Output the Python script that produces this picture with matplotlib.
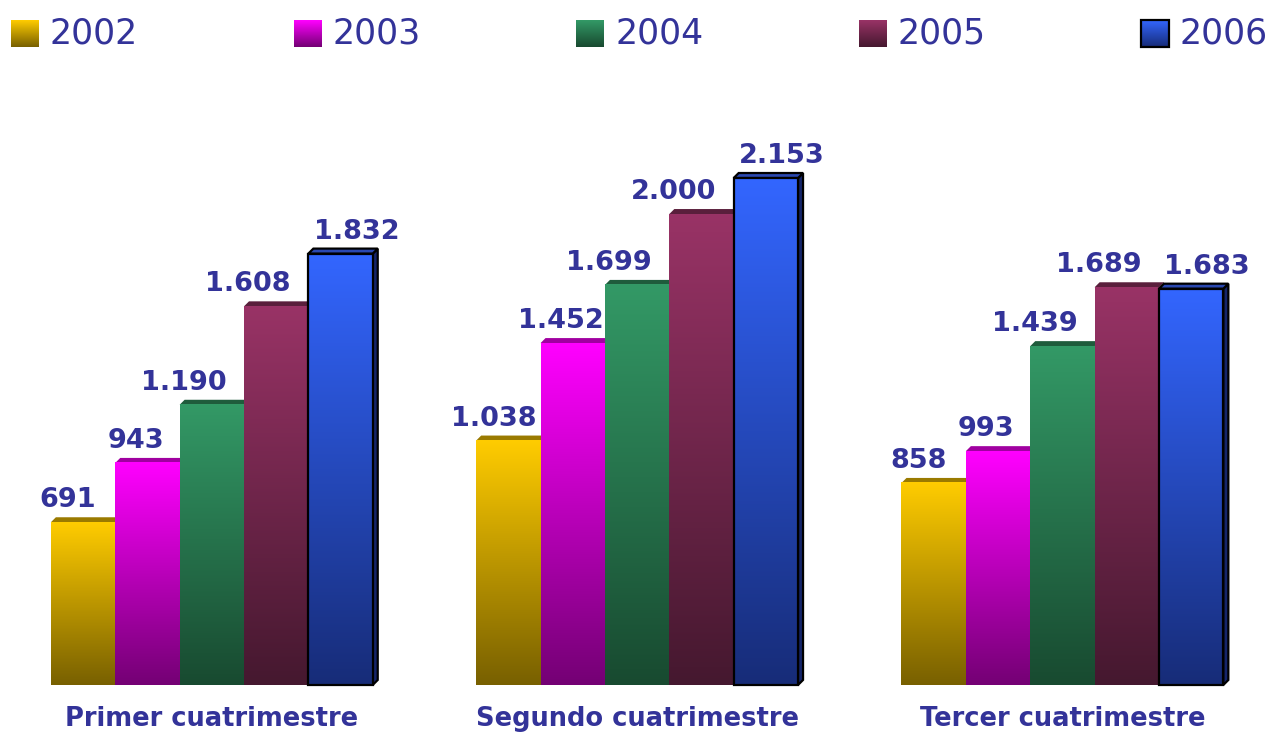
import matplotlib.pyplot as plt
import numpy as np
from matplotlib.colors import LinearSegmentedColormap
from matplotlib.patches import Polygon, Rectangle

# Data
years = ['2002', '2003', '2004', '2005', '2006']
groups = ['Primer cuatrimestre', 'Segundo cuatrimestre', 'Tercer cuatrimestre']
v2002 = [691, 1038, 858]
v2003 = [943, 1452, 993]
v2004 = [1190, 1699, 1439]
v2005 = [1608, 2000, 1689]
v2006 = [1832, 2153, 1683]
series = [v2002, v2003, v2004, v2005, v2006]

# Colours (top of bar -> bottom of bar)
top_colors = ['#FFCC00', '#FF00FF', '#339966', '#993366', '#3366FF']
bottom_colors = ['#786000', '#740074', '#184A30', '#45182F', '#172C78']
face_colors = ['#9A7A00', '#A000A0', '#1F5C3C', '#5A1F3C', '#2A48B0']
side_colors = ['#6A5500', '#660066', '#143E28', '#3A1427', '#15256A']
text_color = '#333399'


def fmt(v):
    return f'{v:,}'.replace(',', '.')


fig = plt.figure(figsize=(12.67, 7.33), dpi=100)
ax = fig.add_axes([0, 0, 1, 1])

px_x = 1 / 425.5      # data units per pixel (x)
px_y = 4.246          # data units per pixel (y)
w = 64.4 * px_x
dx = 5 * px_x
dy = 5 * px_y
label_off = [-15, -12, -28, -28, 16]

z = 2
for g in range(len(groups)):
    for i in range(len(years)):
        h = series[i][g]
        x0 = g + (i - 2.5) * w
        x1 = x0 + w
        edge = 'black' if i == 4 else 'none'
        lw = 1.6 if i == 4 else 0
        side = Polygon([(x1, 0), (x1 + dx, dy), (x1 + dx, h + dy), (x1, h)],
                       closed=True, facecolor=side_colors[i], edgecolor=edge,
                       linewidth=lw, zorder=z)
        top = Polygon([(x0, h), (x0 + dx, h + dy), (x1 + dx, h + dy), (x1, h)],
                      closed=True, facecolor=face_colors[i], edgecolor=edge,
                      linewidth=lw, zorder=z)
        ax.add_patch(side)
        ax.add_patch(top)
        cmap = LinearSegmentedColormap.from_list('g', [bottom_colors[i], top_colors[i]])
        grad = np.linspace(1, 0, 256).reshape(-1, 1)
        ax.imshow(grad, cmap=cmap, extent=(x0, x1, 0, h), aspect='auto',
                  origin='upper', zorder=z + 0.5, interpolation='bilinear')
        if i == 4:
            ax.add_patch(Rectangle((x0, 0), w, h, facecolor='none',
                                   edgecolor='black', linewidth=1.6, zorder=z + 0.6))
        z += 1
        ax.text(x0 + w / 2 + label_off[i] * px_x, h + 15 * px_y, fmt(h),
                ha='center', va='baseline', fontsize=19.5, fontweight='bold',
                color=text_color, zorder=50)
    ax.text(g, -173, groups[g], ha='center', va='baseline', fontsize=18.5,
            fontweight='bold', color=text_color)

ax.set_xlim(-0.498, 2.481)
ax.set_ylim(-204, 2909)
ax.axis('off')

# Legend drawn in pixel space
lax = fig.add_axes([0, 0, 1, 1], zorder=5)
lax.set_xlim(0, 1267)
lax.set_ylim(733, 0)
lax.axis('off')
for i, yr in enumerate(years):
    lx = 11 + i * 282.5
    cmap = LinearSegmentedColormap.from_list('g', [bottom_colors[i], top_colors[i]])
    grad = np.linspace(1, 0, 64).reshape(-1, 1)
    lax.imshow(grad, cmap=cmap, extent=(lx, lx + 28, 47, 20), aspect='auto',
               origin='upper', interpolation='bilinear')
    if i == 4:
        lax.add_patch(Rectangle((lx, 20), 28, 27, facecolor='none',
                                edgecolor='black', linewidth=1.6))
    lax.text(lx + 39, 34, yr, ha='left', va='center', fontsize=25,
             color=text_color)
lax.set_xlim(0, 1267)
lax.set_ylim(733, 0)

plt.savefig('out.png', dpi=100)
